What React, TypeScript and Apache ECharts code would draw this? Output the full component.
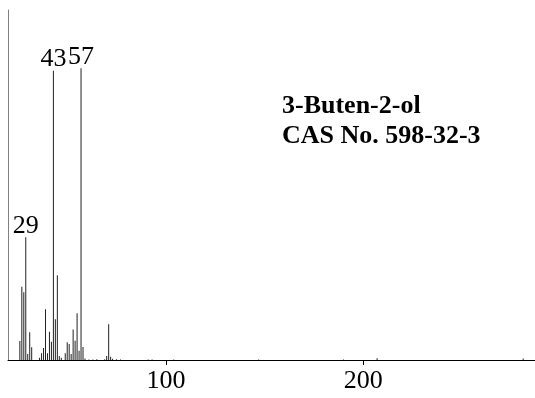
import React, { useEffect, useRef } from "react";
import * as echarts from "echarts";

const mz = [26, 27, 28, 29, 30, 31, 32, 36, 37, 38, 39, 40, 41, 42, 43, 44, 45, 46, 47, 49, 50, 51, 52, 53, 54, 55, 56, 57, 58, 59, 61, 63, 65, 69, 70, 71, 72, 73, 75, 77, 91, 93, 104, 147, 190, 207, 281];
const intensity = [6.5, 25.1, 23.2, 42.1, 2.1, 9.5, 4.4, 0.8, 2.3, 4.1, 17.4, 2.3, 9.7, 6.3, 99.2, 14.0, 29.1, 1.4, 0.8, 2.3, 6.1, 5.5, 2.1, 10.5, 6.6, 16.0, 3.2, 100, 4.5, 0.5, 0.2, 0.2, 0.3, 0.3, 1.4, 12.3, 1.1, 0.4, 0.3, 0.2, 0.2, 0.2, 0.2, 0.2, 0.2, 0.6, 0.5];
const labeledPeaks = [29, 43, 57];
const xTickValues = [100, 200];
const titleLines = ["3-Buten-2-ol", "CAS No. 598-32-3"];

export default function App() {
  const ref = useRef<HTMLDivElement>(null);
  useEffect(() => {
    if (!ref.current) return;
    const chart = echarts.init(ref.current, undefined, { renderer: "svg" });
    const data = mz.map((m, i) =>
      labeledPeaks.includes(m)
        ? { value: [m, intensity[i]], label: { show: true } }
        : { value: [m, intensity[i]] }
    );
    const serif = "'Liberation Serif', 'Times New Roman', serif";
    chart.setOption({
      animation: false,
      grid: { left: 8, right: 0, top: 10, bottom: 38, containLabel: false },
      xAxis: {
        type: "value",
        min: 20,
        max: 287,
        axisLine: { show: true, onZero: false, lineStyle: { color: "#000", width: 1 } },
        axisTick: { show: true, customValues: xTickValues, length: 5, lineStyle: { color: "#000" } },
        axisLabel: { show: true, customValues: xTickValues, fontSize: 26, fontFamily: serif, color: "#000", margin: 6 },
        splitLine: { show: false },
      },
      yAxis: {
        type: "value",
        min: 0,
        max: 120,
        axisLine: { show: true, onZero: false, lineStyle: { color: "#808080", width: 1 } },
        axisTick: { show: false },
        axisLabel: { show: false },
        splitLine: { show: false },
      },
      series: [
        {
          type: "bar",
          data,
          barWidth: 1,
          itemStyle: { color: "#222" },
          label: {
            show: false,
            position: "top",
            distance: 0,
            fontSize: 26,
            fontFamily: serif,
            color: "#000",
            formatter: (p: any) => String(p.value[0]),
          },
        },
      ],
      graphic: titleLines.map((t, i) => ({
        type: "text",
        x: 282,
        y: 91 + i * 30,
        style: {
          text: t,
          font: `bold 26px ${serif}`,
          fill: "#000",
          textVerticalAlign: "top",
        },
      })),
    });
    return () => chart.dispose();
  }, []);
  return <div ref={ref} style={{ position: "fixed", left: 0, top: 0, width: 535, height: 398 }} />;
}
